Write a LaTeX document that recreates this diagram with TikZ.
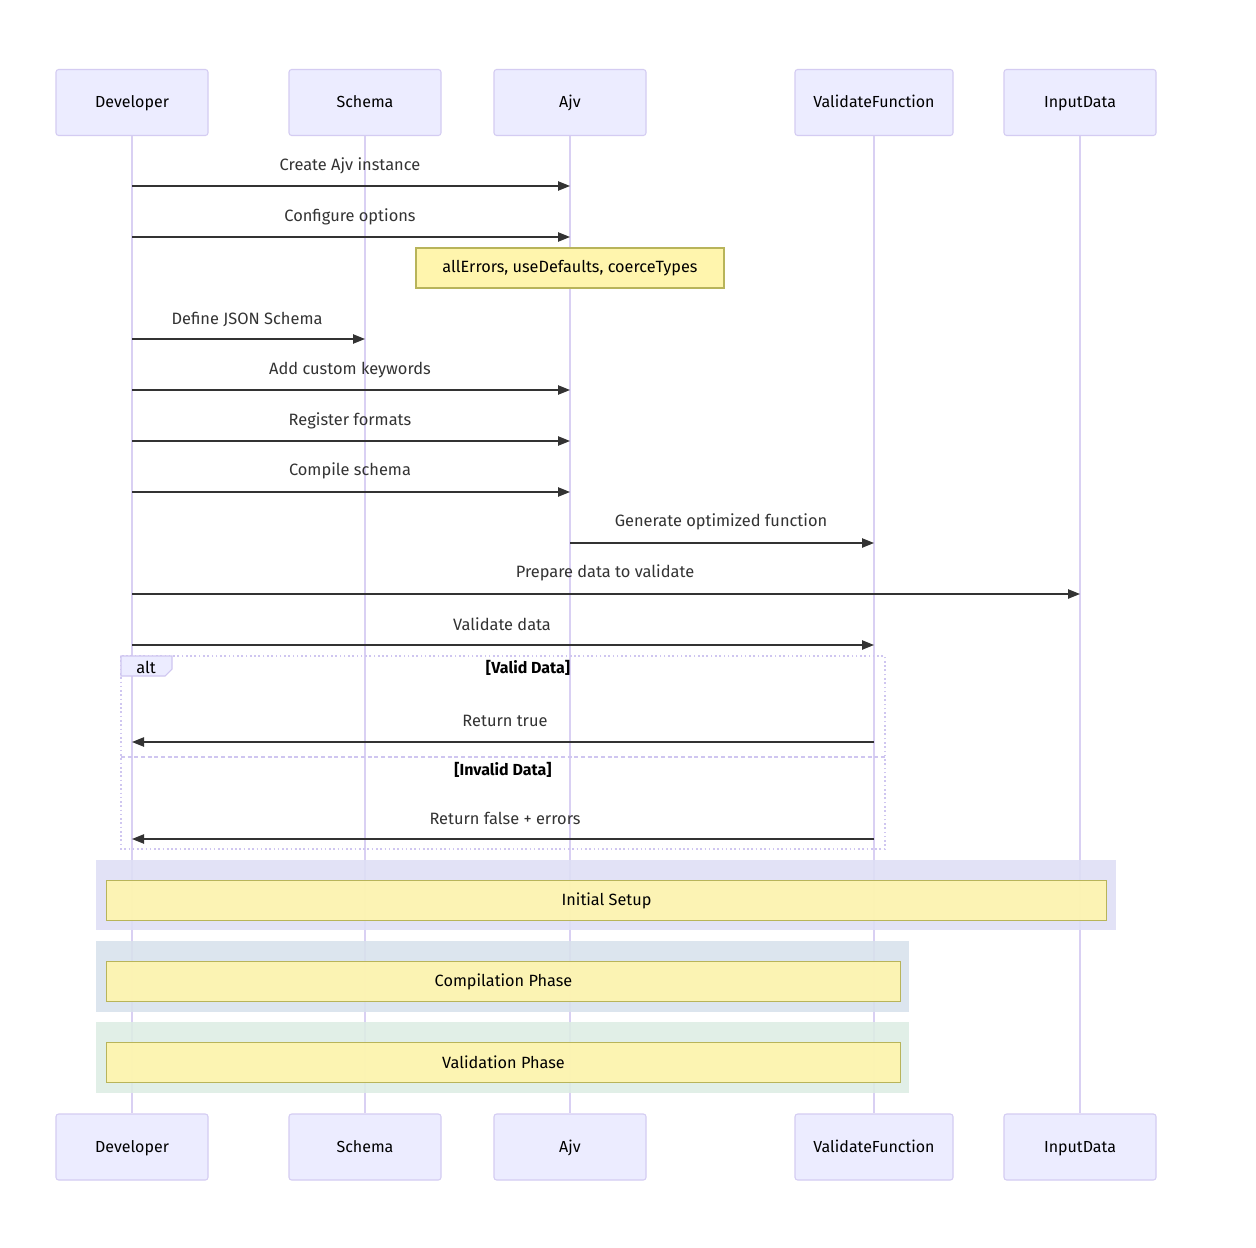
\documentclass[tikz,border=0pt]{standalone}
\usepackage{fontspec}
\setmainfont{Fira Sans}
\usetikzlibrary{arrows.meta,calc}
\definecolor{actfill}{HTML}{ECECFF}
\definecolor{actline}{HTML}{D4CCF2}
\definecolor{lifeline}{HTML}{D9D0F3}
\definecolor{notefill}{HTML}{FFF5AD}
\definecolor{noteline}{HTML}{B8B45A}
\definecolor{msgcol}{HTML}{333333}
\definecolor{bgone}{HTML}{DEDFF5}
\definecolor{bgtwo}{HTML}{D8E2EC}
\definecolor{bgthree}{HTML}{DDEDE4}
\definecolor{altline}{HTML}{CFC6F0}
\tikzset{
  actor/.style={draw=actline, fill=actfill, rounded corners=2pt, line width=0.8pt,
    minimum height=66*0.75pt, inner sep=0pt, text height=1.5ex, text depth=0ex,
    font=\fontsize{12}{14}\selectfont},
  msg/.style={draw=msgcol, line width=1pt, -{Triangle[length=9pt,width=7pt]}},
  msglabel/.style={font=\fontsize{12.3}{14}\selectfont, text=msgcol, inner sep=0pt},
  notebox/.style={draw=noteline, fill=notefill, line width=0.8pt, inner sep=0pt,
    font=\fontsize{12.2}{14}\selectfont},
  phasenote/.style={notebox, fill opacity=0.9, text opacity=1, draw opacity=1},
  lline/.style={draw=lifeline, line width=1.3pt},
}
\begin{document}
\begin{tikzpicture}[x=0.75pt,y=-0.75pt]
\useasboundingbox (0,0) rectangle (1256,1248);
\fill[white] (0,0) rectangle (1256,1248);
% actors top
\node[actor, minimum width=152*0.75pt] (devT) at (132,102.5) {Developer};
\node[actor, minimum width=152*0.75pt] (schT) at (365,102.5) {Schema};
\node[actor, minimum width=152*0.75pt] (ajvT) at (570,102.5) {Ajv};
\node[actor, minimum width=158*0.75pt] (valT) at (874,102.5) {ValidateFunction};
\node[actor, minimum width=152*0.75pt] (inpT) at (1080,102.5) {InputData};
% actors bottom
\node[actor, minimum width=152*0.75pt] (devB) at (132,1147) {Developer};
\node[actor, minimum width=152*0.75pt] (schB) at (365,1147) {Schema};
\node[actor, minimum width=152*0.75pt] (ajvB) at (570,1147) {Ajv};
\node[actor, minimum width=158*0.75pt] (valB) at (874,1147) {ValidateFunction};
\node[actor, minimum width=152*0.75pt] (inpB) at (1080,1147) {InputData};
% lifelines
\foreach \a in {dev,sch,ajv,val,inp} {
  \draw[lline] (\a T.south) -- (\a B.north);
}
% phase rectangles (semi-transparent over lifelines)
\fill[bgone, fill opacity=0.88] (96,860) rectangle (1116,930);
\fill[bgtwo, fill opacity=0.88] (96,941) rectangle (909,1012);
\fill[bgthree, fill opacity=0.88] (96,1022) rectangle (909,1093);
\node[phasenote, minimum width=1000*0.75pt, minimum height=40*0.75pt, anchor=north west] (n1) at (106,880) {Initial Setup};
\node[phasenote, minimum width=794*0.75pt, minimum height=40*0.75pt, anchor=north west] (n2) at (106,961) {Compilation Phase};
\node[phasenote, minimum width=794*0.75pt, minimum height=40*0.75pt, anchor=north west] (n3) at (106,1042) {Validation Phase};
% alt fragment
\draw[altline, line width=1.2pt, dotted] (121,656) rectangle (885,849);
\draw[altline, line width=1.2pt, dash pattern=on 3pt off 2pt] (121,757) -- (885,757);
\path[fill=actfill, draw=altline, line width=0.8pt] (121,656) -- (172,656) -- (172,669) -- (165,676) -- (121,676) -- cycle;
\node[msglabel, text=black] (altlab) at (146,667) {alt};
\node[msglabel, text=black, font=\fontsize{12}{14}\selectfont\bfseries] (g1) at (528,668) {[Valid Data]};
\node[msglabel, text=black, font=\fontsize{12}{14}\selectfont\bfseries] (g2) at (503,770) {[Invalid Data]};
% messages
\foreach \y/\n in {186/m1,237/m2,339/m3,390/m4,441/m5,492/m6,543/m7,594/m8,645/m9,742/m10,839/m11} {
  \coordinate (\n) at (0,\y);
}
\draw[msg] (devT |- m1) -- (ajvT |- m1);
\node[msglabel] (l1) at (350,166) {Create Ajv instance};
\draw[msg] (devT |- m2) -- (ajvT |- m2);
\node[msglabel] (l2) at (350,217) {Configure options};
\node[notebox, minimum width=308*0.75pt, minimum height=40*0.75pt] (cfg) at (570,268) {allErrors, useDefaults, coerceTypes};
\draw[msg] (devT |- m3) -- (schT |- m3);
\node[msglabel] (l3) at (247,319) {Define JSON Schema};
\draw[msg] (devT |- m4) -- (ajvT |- m4);
\node[msglabel] (l4) at (350,370) {Add custom keywords};
\draw[msg] (devT |- m5) -- (ajvT |- m5);
\node[msglabel] (l5) at (350,421) {Register formats};
\draw[msg] (devT |- m6) -- (ajvT |- m6);
\node[msglabel] (l6) at (350,471) {Compile schema};
\draw[msg] (ajvT |- m7) -- (valT |- m7);
\node[msglabel] (l7) at (721,522) {Generate optimized function};
\draw[msg] (devT |- m8) -- (inpT |- m8);
\node[msglabel] (l8) at (605,573) {Prepare data to validate};
\draw[msg] (devT |- m9) -- (valT |- m9);
\node[msglabel] (l9) at (502,624) {Validate data};
\draw[msg] (valT |- m10) -- (devT |- m10);
\node[msglabel] (l10) at (505,721) {Return true};
\draw[msg] (valT |- m11) -- (devT |- m11);
\node[msglabel] (l11) at (505,818) {Return false + errors};
\end{tikzpicture}
\end{document}
